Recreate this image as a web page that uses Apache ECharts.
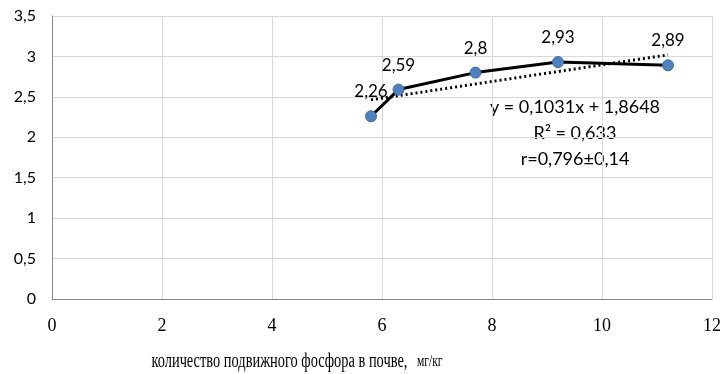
<!DOCTYPE html>
<html>
<head>
<meta charset="utf-8">
<script src="https://cdn.jsdelivr.net/npm/echarts@6/dist/echarts.min.js"></script>
<style>
html, body { margin: 0; padding: 0; background: #fff; }
#chart { width: 725px; height: 374px; }
</style>
</head>
<body>
<div id="chart"></div>
<script>
// точки: фосфор (мг/кг) и значение
var phosphorus = [5.8, 6.3, 7.7, 9.2, 11.2];
var values = [2.26, 2.59, 2.8, 2.93, 2.89];
// линейный тренд из подписи
var trendSlope = 0.1031;
var trendIntercept = 1.8648;
var trendText = ["y = 0,1031x + 1,8648", "R² = 0,633", "r=0,796±0,14"];
var xTicks = [0, 2, 4, 6, 8, 10, 12];
var yTicks = [0, 0.5, 1, 1.5, 2, 2.5, 3, 3.5];
var xTitle = "количество подвижного фосфора в почве,";
var xUnits = "мг/кг";

function comma(v) { return String(v).replace(".", ","); }

var points = phosphorus.map(function (x, i) { return [x, values[i]]; });
var xMin = Math.min.apply(null, phosphorus), xMax = Math.max.apply(null, phosphorus);
var trend = [xMin, xMax].map(function (x) { return [x, trendSlope * x + trendIntercept]; });

var chart = echarts.init(document.getElementById("chart"));
var option = {
	animation: false,
	grid: { left: 52, right: 13, top: 16, bottom: 75 },
	xAxis: {
		type: "value",
		min: xTicks[0], max: xTicks[xTicks.length - 1], interval: 2,
		axisLine: { lineStyle: { color: "#868686", width: 1 } },
		axisTick: { show: false },
		splitLine: { lineStyle: { color: "#d9d9d9" } },
		axisLabel: { color: "#000", fontFamily: "Liberation Serif", fontSize: 18, margin: 18 }
	},
	yAxis: {
		type: "value",
		min: yTicks[0], max: yTicks[yTicks.length - 1], interval: 0.5,
		axisLine: { show: true, lineStyle: { color: "#868686", width: 1 } },
		axisTick: { show: false },
		splitLine: { lineStyle: { color: "#d9d9d9" } },
		axisLabel: { color: "#000", fontFamily: "Lato", fontSize: 16, margin: 16, formatter: comma }
	},
	series: [
		{
			type: "line",
			data: trend,
			symbol: "none",
			lineStyle: { color: "#000", width: 3, type: [2, 3] },
			z: 2
		},
		{
			type: "line",
			data: points,
			symbol: "circle",
			symbolSize: 11,
			lineStyle: { color: "#000", width: 3 },
			itemStyle: { color: "#4f81bd", borderColor: "#3a6aa5", borderWidth: 1 },
			label: {
				show: true, position: "top", distance: 10,
				color: "#000", fontFamily: "Lato", fontSize: 17,
				formatter: function (p) { return comma(p.value[1]); }
			},
			z: 3
		}
	],
	graphic: [
		{
			type: "text",
			x: 575, y: 94,
			style: {
				text: trendText.join("\n"),
				align: "center",
				verticalAlign: "top",
				fill: "#000",
				font: "18px Lato",
				lineHeight: 26
			}
		},
		{
			type: "text",
			x: 297, y: 362,
			scaleX: 0.72,
			style: {
				text: "{a|" + xTitle + "}    {b|" + xUnits + "}",
				align: "center",
				verticalAlign: "middle",
				rich: {
					a: { fontFamily: "Liberation Serif", fontSize: 20, fill: "#000" },
					b: { fontFamily: "Liberation Serif", fontSize: 16, fill: "#000" }
				}
			}
		}
	]
};
chart.setOption(option);
</script>
</body>
</html>
